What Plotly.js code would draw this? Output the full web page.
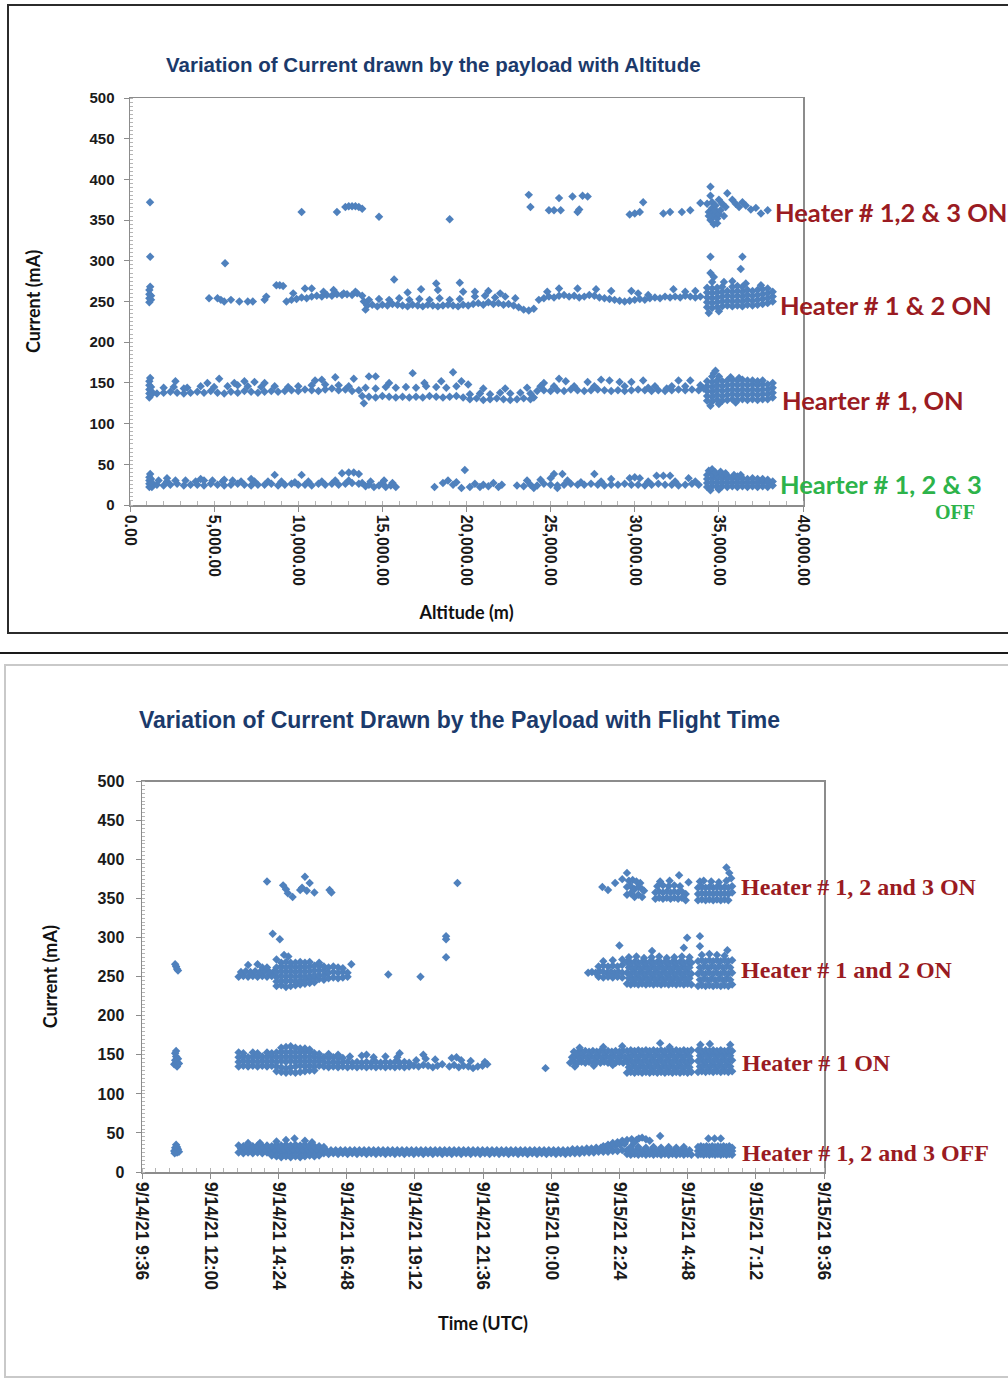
<!DOCTYPE html>
<html>
<head>
<meta charset="utf-8">
<script src="https://cdn.plot.ly/plotly-3.0.1.min.js"></script>
<style>html,body{margin:0;padding:0;background:#fff}#chart{width:1008px;height:1380px}</style>
</head>
<body>
<div id="chart"></div>
<script>
// ---------- TOP CHART DATA: [altitude (m), current (mA)] ----------
const altOffPts = [
 [1150,22],[1150,26],[1150,30],[1150,34],[1200,38],[1250,24],[1250,28],[1250,32],[1300,22],[1300,27],
 [1600,25],[2000,24],[2400,25],[2800,26],[3200,24],[3600,25],[4000,25],[4400,24],[4800,26],[5200,25],[5600,24],[6000,25],[6400,26],[6800,25],[7200,24],[7600,25],[8000,25],[8400,26],[8800,24],[9200,25],[9600,26],[10000,25],[10400,25],[10800,24],[11200,26],[11600,25],[12000,26],[12400,25],[12800,26],[13200,27],[13600,26],
 [1700,30],[2200,29],[2700,30],[3300,30],[3900,29],[4400,30],[4900,30],[5500,29],[6100,30],[6600,29],[7400,29],[8200,29],[9000,29],[9800,28],[10600,29],[11400,29],[12200,30],[13000,30],
 [2200,33],[8600,37],[10200,37],[12600,39],[13000,40],[13300,40],[13600,38],[7200,32],[4200,32],[5600,31],
 [13800,27],[14000,23],[14200,25],[14500,22],[14800,24],[15000,27],[15200,22],[15500,24],[15800,22],[14300,29],[15100,30],[15600,27],
 [18100,22],[18600,27],[18900,30],[19200,25],[19400,28],[19900,43],[19700,21],[20200,22],[20500,26],[20800,22],[21000,25],[21300,23],[21600,27],[21900,22],[22100,25],
 [23000,24],[23400,23],[23800,25],[24200,24],[24600,26],[25000,25],[25400,24],[25800,25],[26200,26],[26600,25],[27000,25],[27400,26],[27800,25],[28200,24],[28600,25],[29000,25],[29400,26],[29800,25],[30200,25],[30600,24],[31000,25],[31400,26],[31800,25],[32200,25],[32600,24],[33000,25],[33400,26],[33800,25],
 [23600,30],[24400,31],[25000,33],[25200,38],[25700,38],[26000,30],[27600,38],[28600,32],[29700,33],[30000,34],[30300,33],[31300,36],[31700,36],[32100,36],[33200,33],[24000,21],[25400,21],[26800,28],[28000,29],[30800,29],[32400,29],[33600,29],
 [34300,22],[34300,27],[34300,32],[34300,37],[34600,23],[34600,28],[34600,33],[34600,38],[34900,22],[34900,27],[34900,32],[34900,36],
 [35200,23],[35200,28],[35200,33],[35200,37],[35500,22],[35500,27],[35500,32],[35500,36],[35800,23],[35800,28],[35800,33],
 [36100,22],[36100,27],[36100,32],[36100,35],[36400,23],[36400,28],[36400,33],[36700,22],[36700,27],[36700,32],
 [37000,23],[37000,28],[37000,33],[37300,22],[37300,27],[37300,32],[37600,23],[37600,28],[37600,32],[37900,22],[37900,27],[37900,31],[38200,24],[38200,29],
 [34400,42],[34600,44],[34800,40],[35100,41],[35400,39],[35900,37],[36300,37],[34500,18],[35000,19]
];
const alt1OnPts = [
 [1150,132],[1150,137],[1150,142],[1150,147],[1150,152],[1200,156],[1250,135],[1250,140],[1250,145],[1300,138],
 [1600,137],[2000,138],[2400,139],[2800,138],[3200,137],[3600,138],[4000,139],[4400,138],[4800,140],[5200,138],[5600,137],[6000,139],[6400,138],[6800,140],[7200,139],[7600,138],[8000,139],[8400,140],[8800,139],[9200,140],[9600,141],[10000,140],[10400,142],[10800,141],[11200,140],[11600,142],[12000,143],[12400,141],[12800,142],[13200,140],[13600,141],
 [2000,144],[2600,145],[3400,144],[4200,146],[5000,145],[5800,146],[6400,147],[7000,146],[7800,145],[8600,146],[9400,145],[10000,146],[10800,147],[11600,148],[12400,147],[13000,146],
 [2700,152],[3200,143],[4600,150],[5300,155],[6200,150],[6800,152],[7400,151],[8000,150],[11000,153],[11400,154],[12200,157],[13300,155],[14200,158],[14600,158],[16800,162],[19200,163],[15400,150],[17500,150],[18500,152],
 [13800,134],[14200,133],[14600,132],[15000,134],[15400,133],[15800,132],[16200,133],[16600,132],[17000,133],[17400,132],[17800,134],[18200,133],[18600,132],[19000,133],[19400,134],[19800,132],
 [14000,144],[14600,143],[15200,145],[15800,144],[16400,145],[17000,144],[17600,146],[18200,145],[18800,144],[19400,146],[13900,125],
 [20200,130],[20600,131],[21000,129],[21400,130],[21800,131],[22200,130],[22600,129],[23000,130],[23400,131],[23800,130],[24000,132],
 [20200,136],[20800,137],[21400,136],[22000,138],[22600,137],[23200,138],[23800,137],
 [19700,152],[20100,148],[21000,143],[22300,143],[23600,144],
 [24200,140],[24600,141],[25000,140],[25400,141],[25800,140],[26200,142],[26600,141],[27000,140],[27400,141],[27800,142],[28200,141],[28600,140],[29000,141],[29400,140],[29800,141],[30200,142],[30600,141],[31000,140],[31400,141],[31800,140],[32200,141],[32600,142],[33000,141],[33400,142],[33800,141],
 [24600,150],[25500,155],[25900,152],[27200,151],[28000,154],[28500,153],[29100,151],[29800,151],[30500,153],[32600,153],[33300,153],[26400,146],[30800,144],[31900,143],[33000,146],[24400,146],[25200,146],[27600,146],[29400,146],[31200,146],[32200,146],
 [34300,128],[34300,134],[34300,140],[34300,146],[34300,152],[34600,127],[34600,133],[34600,139],[34600,145],[34600,151],[34600,158],
 [34900,129],[34900,135],[34900,141],[34900,147],[34900,153],[35200,128],[35200,134],[35200,140],[35200,146],[35200,152],
 [35500,129],[35500,135],[35500,141],[35500,147],[35500,153],[35800,130],[35800,136],[35800,142],[35800,148],[35800,154],
 [36100,129],[36100,135],[36100,141],[36100,147],[36100,153],[36400,130],[36400,136],[36400,142],[36400,148],[36400,154],
 [36700,129],[36700,135],[36700,141],[36700,147],[36700,153],[37000,130],[37000,136],[37000,142],[37000,148],[37000,153],
 [37300,129],[37300,135],[37300,141],[37300,147],[37300,152],[37600,130],[37600,136],[37600,142],[37600,148],[37600,153],
 [37900,130],[37900,136],[37900,142],[37900,148],[38200,132],[38200,138],[38200,144],[38200,150],
 [34700,162],[34800,165],[35000,158],[35700,157],[36200,156],[34500,122],[35000,124],[36000,126],[34100,143],[33900,147]
];
const alt12OnPts = [
 [1150,249],[1150,254],[1150,259],[1150,264],[1200,268],[1250,252],[1250,257],[1200,305],
 [4700,254],[5200,254],[5400,252],[5600,250],[6000,252],[6500,250],[7000,250],[7300,250],[8000,252],[8100,256],[5650,297],
 [8700,270],[8900,270],[9100,269],
 [9300,250],[9600,252],[9900,253],[10200,255],[10500,254],[10800,256],[11100,257],[11400,256],[11700,258],[12000,257],[12300,259],[12600,258],[12900,259],[13200,258],[13500,260],[13800,257],
 [10400,266],[10800,266],[12100,264],[11500,262],[9700,260],[13400,262],[12700,260],
 [14100,245],[14400,246],[14700,244],[15000,246],[15300,245],[15600,247],[15900,246],[16200,245],[16500,244],[16800,246],[17100,245],[17400,244],[17700,246],[18000,245],[18300,244],[18600,245],[18900,246],[19200,245],[19500,244],[19800,246],[20100,245],
 [14200,252],[14800,253],[15400,252],[16000,254],[16600,252],[17200,253],[17800,252],[18400,254],[19000,252],[19600,253],
 [15700,277],[17300,265],[16500,261],[18200,272],[18300,264],[19600,273],[19800,262],[14000,240],[13900,250],
 [20400,247],[20700,248],[21000,246],[21300,249],[21600,247],[21900,248],[22200,246],[22500,247],[22800,245],[23100,243],[23400,240],[23700,239],[24000,241],
 [20500,256],[21100,257],[21700,255],[22300,256],[22900,254],[20500,262],[21300,263],[22000,260],
 [24300,252],[24600,254],[24900,256],[25200,255],[25500,257],[25800,258],[26100,256],[26400,257],[26700,255],[27000,256],[27300,258],[27600,257],[27900,255],[28200,254],[28500,253],[28800,252],[29100,251],[29400,250],[29700,251],[30000,252],[30300,253],[30600,252],[30900,254],[31200,255],[31500,254],[31800,256],[32100,255],[32400,256],[32700,255],[33000,257],[33300,256],[33600,255],[33900,256],
 [25500,266],[26600,266],[27700,265],[28600,263],[29800,263],[30200,260],[30800,258],[32300,265],[33000,262],[33600,263],[24800,262],
 [34300,243],[34300,249],[34300,255],[34300,261],[34300,267],[34600,242],[34600,248],[34600,254],[34600,260],[34600,266],[34600,274],
 [34900,243],[34900,249],[34900,255],[34900,261],[34900,267],[35200,244],[35200,250],[35200,256],[35200,262],[35200,268],
 [35500,245],[35500,251],[35500,257],[35500,263],[35800,244],[35800,250],[35800,256],[35800,262],[35800,268],
 [36100,245],[36100,251],[36100,257],[36100,263],[36100,269],[36400,244],[36400,250],[36400,256],[36400,262],[36400,268],
 [36700,246],[36700,252],[36700,258],[36700,264],[37000,245],[37000,251],[37000,257],[37000,263],
 [37300,246],[37300,252],[37300,258],[37300,264],[37600,247],[37600,253],[37600,259],[37600,265],
 [37900,248],[37900,254],[37900,260],[37900,266],[38200,250],[38200,256],[38200,262],
 [34500,305],[36400,305],[36300,290],[34500,285],[34700,280],[35300,274],[35800,275],[36600,272],[37500,270],[34400,236],[35000,238]
];
const alt123OnPts = [
 [1190,372],[10200,360],[12300,360],[12800,366],[13000,367],[13200,367],[13400,367],[13600,366],[13800,364],[14800,354],[19000,351],
 [23700,381],[23800,366],[24900,362],[25200,362],[25500,377],[25600,362],[26300,379],[26600,360],[26700,363],[26900,380],[27200,379],
 [29700,357],[30000,358],[30300,360],[30500,372],[31700,358],[32100,360],[32800,360],[33300,362],[33900,371],
 [34300,370],[34400,360],[34500,391],[34500,380],[34500,350],[34600,372],[34600,365],[34600,358],[34700,345],[34700,355],[34800,368],[34800,362],
 [34900,352],[35000,375],[35000,357],[35100,362],[35200,370],[35300,355],[35400,366],[35500,383],[34400,355],[34900,346],
 [35800,375],[36000,370],[36200,366],[36400,372],[36600,368],[36900,363],[37200,365],[37500,358],[37900,362]
];

// ---------- BOTTOM CHART DATA: [day hh:mm (Sept 2021, UTC), current (mA)] ----------
const timeOffPts = [
 ['14 10:44',27],['14 10:46',31],['14 10:48',35],['14 10:48',28],['14 10:50',25],['14 10:50',32],['14 10:52',29],['14 10:54',26],['14 10:45',24],
 ['14 13:00',25],['14 13:10',24],['14 13:20',25],['14 13:30',24],['14 13:40',25],['14 13:50',24],
 ['14 14:00',25],['14 14:10',24],['14 14:20',25],['14 14:30',24],['14 14:40',25],['14 14:50',24],
 ['14 15:00',25],['14 15:10',24],['14 15:20',25],['14 15:30',24],['14 15:40',25],['14 15:50',24],
 ['14 16:00',24],['14 16:10',23],['14 16:20',24],['14 16:30',23],['14 16:40',24],['14 16:50',23],
 ['14 17:00',24],['14 17:10',23],['14 17:20',24],['14 17:30',23],['14 17:40',24],['14 17:50',23],
 ['14 18:00',24],['14 18:10',23],['14 18:20',24],['14 18:30',23],['14 18:40',24],['14 18:50',23],
 ['14 19:00',24],['14 19:10',23],['14 19:20',24],['14 19:30',23],['14 19:40',24],['14 19:50',23],
 ['14 20:00',24],['14 20:10',23],['14 20:20',24],['14 20:30',23],['14 20:40',24],['14 20:50',23],
 ['14 21:00',24],['14 21:10',23],['14 21:20',24],['14 21:30',23],['14 21:40',24],['14 21:50',23],
 ['14 22:00',24],['14 22:10',23],['14 22:20',24],['14 22:30',23],['14 22:40',24],['14 22:50',23],
 ['14 23:00',24],['14 23:10',23],['14 23:20',24],['14 23:30',23],['14 23:40',24],['14 23:50',23],
 ['15 00:00',24],['15 00:10',23],['15 00:20',24],['15 00:30',23],['15 00:40',24],['15 00:50',24],
 ['15 01:00',24],['15 01:10',25],['15 01:20',25],['15 01:30',25],['15 01:40',26],['15 01:50',26],
 ['15 02:00',26],['15 02:10',27],['15 02:20',27],['15 02:30',28],['15 02:40',28],
 ['14 13:05',30],['14 13:15',29],['14 13:25',30],['14 13:35',29],['14 13:45',30],['14 13:55',29],
 ['14 14:05',30],['14 14:15',29],['14 14:25',30],['14 14:35',29],['14 14:45',30],['14 14:55',29],
 ['14 15:05',30],['14 15:15',29],['14 15:25',30],['14 15:35',29],['14 15:45',29],['14 15:55',28],
 ['14 16:05',28],['14 16:15',28],['14 16:25',28],['14 16:35',28],['14 16:45',28],['14 16:55',28],
 ['14 17:05',28],['14 17:15',28],['14 17:25',28],['14 17:35',28],['14 17:45',28],['14 17:55',28],
 ['14 18:05',28],['14 18:15',28],['14 18:25',28],['14 18:35',28],['14 18:45',28],['14 18:55',28],
 ['14 19:05',28],['14 19:15',28],['14 19:25',28],['14 19:35',28],['14 19:45',28],['14 19:55',28],
 ['14 20:05',28],['14 20:15',28],['14 20:25',28],['14 20:35',28],['14 20:45',28],['14 20:55',28],
 ['14 21:05',28],['14 21:15',28],['14 21:25',28],['14 21:35',28],['14 21:45',28],['14 21:55',28],
 ['14 22:05',28],['14 22:15',28],['14 22:25',28],['14 22:35',28],['14 22:45',28],['14 22:55',28],
 ['14 23:05',28],['14 23:15',28],['14 23:25',28],['14 23:35',28],['14 23:45',28],['14 23:55',28],
 ['15 00:05',28],['15 00:15',28],['15 00:25',28],['15 00:35',28],['15 00:45',29],['15 00:55',29],
 ['15 01:05',29],['15 01:15',30],['15 01:25',30],['15 01:35',31],['15 01:45',31],['15 01:55',32],
 ['15 02:05',33],['15 02:15',34],['15 02:25',35],['15 02:35',36],
 ['14 13:00',34],['14 13:10',33],['14 13:20',34],['14 13:30',33],['14 13:40',34],['14 13:50',33],['14 14:00',34],['14 14:10',33],['14 14:20',35],['14 14:30',34],
 ['14 14:40',35],['14 14:50',34],['14 15:00',35],['14 15:10',34],['14 15:20',35],['14 15:30',34],['14 15:40',33],['14 15:50',33],['14 16:00',32],
 ['14 14:10',21],['14 14:20',20],['14 14:30',19],['14 14:40',20],['14 14:50',19],['14 15:00',20],['14 15:10',19],['14 15:20',20],['14 15:30',21],['14 15:40',20],['14 15:50',21],
 ['14 13:20',37],['14 13:45',37],['14 14:20',39],['14 14:40',41],['14 14:58',43],['14 15:20',40],['14 15:35',38],
 ['15 02:40',23],['15 02:48',22],['15 02:56',23],['15 03:04',22],['15 03:12',23],['15 03:20',22],['15 03:28',23],['15 03:36',22],['15 03:44',23],
 ['15 03:52',22],['15 04:00',23],['15 04:08',22],['15 04:16',23],['15 04:24',22],['15 04:32',23],['15 04:40',22],['15 04:48',23],['15 04:56',22],
 ['15 02:44',28],['15 02:52',27],['15 03:00',28],['15 03:08',27],['15 03:16',28],['15 03:24',27],['15 03:32',28],['15 03:40',27],['15 03:48',28],
 ['15 03:56',27],['15 04:04',28],['15 04:12',27],['15 04:20',28],['15 04:28',27],['15 04:36',28],['15 04:44',27],['15 04:52',28],
 ['15 02:48',32],['15 03:04',32],['15 03:20',31],['15 03:36',32],['15 03:52',31],['15 04:08',32],['15 04:24',31],['15 04:40',32],
 ['15 01:50',33],['15 02:00',35],['15 02:10',37],['15 02:20',38],['15 02:30',40],['15 02:40',41],['15 02:50',42],['15 03:00',41],
 ['15 03:05',43],['15 03:12',44],['15 03:20',42],['15 03:28',40],['15 03:50',46],['15 02:35',37],['15 02:55',37],
 ['15 05:10',22],['15 05:16',23],['15 05:22',22],['15 05:28',23],['15 05:34',22],['15 05:40',23],['15 05:46',22],['15 05:52',23],['15 05:58',22],['15 06:04',23],['15 06:10',22],['15 06:16',23],['15 06:22',22],
 ['15 05:10',27],['15 05:16',28],['15 05:22',27],['15 05:28',28],['15 05:34',27],['15 05:40',28],['15 05:46',27],['15 05:52',28],['15 05:58',27],['15 06:04',28],['15 06:10',27],['15 06:16',28],['15 06:22',27],
 ['15 05:10',32],['15 05:16',33],['15 05:22',32],['15 05:28',33],['15 05:34',32],['15 05:40',33],['15 05:46',32],['15 05:52',33],['15 05:58',32],['15 06:04',33],['15 06:10',32],['15 06:16',33],['15 06:22',31],
 ['15 05:32',43],['15 05:45',43],['15 05:58',43]
];
const time1OnPts = [
 ['14 10:44',138],['14 10:46',143],['14 10:48',148],['14 10:48',155],['14 10:50',140],['14 10:50',135],['14 10:52',145],['14 10:54',139],['14 10:46',152],
 ['14 13:00',135],['14 13:10',136],['14 13:20',135],['14 13:30',136],['14 13:40',135],['14 13:50',136],['14 14:00',135],['14 14:10',136],['14 14:20',135],['14 14:30',134],['14 14:40',133],['14 14:50',134],
 ['14 15:00',135],['14 15:10',136],['14 15:20',135],['14 15:30',136],['14 15:40',135],['14 15:50',136],['14 16:00',135],['14 16:10',134],['14 16:20',135],['14 16:30',134],['14 16:40',135],
 ['14 13:00',141],['14 13:10',142],['14 13:20',141],['14 13:30',142],['14 13:40',141],['14 13:50',142],['14 14:00',141],['14 14:10',142],['14 14:20',141],['14 14:30',142],['14 14:40',141],['14 14:50',142],
 ['14 15:00',141],['14 15:10',142],['14 15:20',141],['14 15:30',142],['14 15:40',141],['14 15:50',142],['14 16:00',141],['14 16:10',140],['14 16:20',141],['14 16:30',140],['14 16:40',141],
 ['14 13:00',147],['14 13:10',148],['14 13:20',147],['14 13:30',148],['14 13:40',147],['14 13:50',148],['14 14:00',147],['14 14:10',148],['14 14:20',147],['14 14:30',148],['14 14:40',147],['14 14:50',148],
 ['14 15:00',147],['14 15:10',148],['14 15:20',147],['14 15:30',148],['14 15:40',147],['14 15:50',146],['14 16:00',147],['14 16:10',146],['14 16:20',147],['14 16:30',146],['14 16:40',146],
 ['14 13:00',153],['14 13:10',152],['14 13:30',153],['14 13:40',152],['14 14:00',153],['14 14:10',152],['14 14:20',153],['14 14:30',154],['14 14:40',153],['14 14:50',154],
 ['14 15:00',153],['14 15:10',154],['14 15:20',153],['14 15:30',154],['14 15:40',152],['14 15:50',151],['14 16:10',151],['14 16:30',150],
 ['14 14:20',129],['14 14:30',128],['14 14:40',127],['14 14:50',128],['14 15:00',127],['14 15:10',128],['14 15:20',129],['14 15:30',130],['14 15:40',130],
 ['14 14:30',159],['14 14:40',160],['14 14:50',161],['14 15:00',159],['14 15:10',158],['14 15:20',158],['14 15:30',157],
 ['14 16:50',134],['14 17:00',135],['14 17:10',134],['14 17:20',135],['14 17:30',134],['14 17:40',135],['14 17:50',134],['14 18:00',135],['14 18:10',134],['14 18:20',135],['14 18:30',134],['14 18:40',135],['14 18:50',134],['14 19:00',135],
 ['14 16:50',141],['14 17:00',140],['14 17:10',141],['14 17:20',140],['14 17:30',141],['14 17:40',140],['14 17:50',141],['14 18:00',140],['14 18:10',141],['14 18:20',140],['14 18:30',141],['14 18:40',140],['14 18:50',141],['14 19:00',140],
 ['14 16:55',148],['14 17:20',149],['14 17:45',147],['14 18:10',148],['14 18:35',147],['14 17:30',150],['14 18:40',152],
 ['14 19:10',136],['14 19:20',135],['14 19:30',137],['14 19:40',136],['14 19:50',134],['14 20:00',136],['14 20:10',138],['14 20:25',135],['14 20:35',137],['14 20:45',134],['14 20:55',136],['14 21:05',135],['14 21:15',133],['14 21:25',135],['14 21:35',136],['14 21:45',138],
 ['14 19:15',143],['14 19:35',145],['14 19:55',144],['14 20:30',146],['14 20:50',143],['14 21:10',142],['14 21:40',141],['14 19:30',150],['14 20:40',147],
 ['14 23:48',133],
 ['15 00:40',140],['15 00:48',141],['15 00:56',140],['15 01:04',141],['15 01:12',140],['15 01:20',141],['15 01:28',140],['15 01:36',141],['15 01:44',140],['15 01:52',141],['15 02:00',140],['15 02:08',141],['15 02:16',140],['15 02:24',141],['15 02:32',140],
 ['15 00:44',147],['15 00:52',148],['15 01:00',147],['15 01:08',148],['15 01:16',147],['15 01:24',148],['15 01:32',147],['15 01:40',148],['15 01:48',147],['15 01:56',148],['15 02:04',147],['15 02:12',148],['15 02:20',147],['15 02:28',148],['15 02:36',147],
 ['15 00:48',154],['15 00:56',153],['15 01:04',154],['15 01:12',155],['15 01:20',154],['15 01:28',155],['15 01:36',154],['15 01:44',155],['15 01:52',154],['15 02:00',155],['15 02:08',154],['15 02:16',155],['15 02:24',154],['15 02:32',155],
 ['15 00:50',135],['15 01:30',136],['15 02:10',137],['15 01:00',159],['15 01:50',160],['15 02:30',161],
 ['15 02:40',127],['15 02:48',128],['15 02:56',127],['15 03:04',128],['15 03:12',127],['15 03:20',128],['15 03:28',127],['15 03:36',128],['15 03:44',127],['15 03:52',128],['15 04:00',127],['15 04:08',128],['15 04:16',127],['15 04:24',128],['15 04:32',127],['15 04:40',128],['15 04:48',127],['15 04:56',128],
 ['15 02:44',134],['15 02:52',135],['15 03:00',134],['15 03:08',135],['15 03:16',134],['15 03:24',135],['15 03:32',134],['15 03:40',135],['15 03:48',134],['15 03:56',135],['15 04:04',134],['15 04:12',135],['15 04:20',134],['15 04:28',135],['15 04:36',134],['15 04:44',135],['15 04:52',134],
 ['15 02:40',141],['15 02:48',142],['15 02:56',141],['15 03:04',142],['15 03:12',141],['15 03:20',142],['15 03:28',141],['15 03:36',142],['15 03:44',141],['15 03:52',142],['15 04:00',141],['15 04:08',142],['15 04:16',141],['15 04:24',142],['15 04:32',141],['15 04:40',142],['15 04:48',141],['15 04:56',142],
 ['15 02:44',148],['15 02:52',149],['15 03:00',148],['15 03:08',149],['15 03:16',148],['15 03:24',149],['15 03:32',148],['15 03:40',149],['15 03:48',148],['15 03:56',149],['15 04:04',148],['15 04:12',149],['15 04:20',148],['15 04:28',149],['15 04:36',148],['15 04:44',149],['15 04:52',148],
 ['15 02:40',155],['15 02:48',156],['15 02:56',155],['15 03:04',156],['15 03:12',155],['15 03:20',156],['15 03:28',155],['15 03:36',156],['15 03:44',155],['15 03:52',156],['15 04:00',155],['15 04:08',156],['15 04:16',155],['15 04:24',156],['15 04:32',155],['15 04:40',156],['15 04:48',155],['15 04:56',156],
 ['15 05:10',128],['15 05:18',129],['15 05:26',128],['15 05:34',129],['15 05:42',128],['15 05:50',129],['15 05:58',128],['15 06:06',129],['15 06:14',128],['15 06:22',129],
 ['15 05:14',135],['15 05:22',136],['15 05:30',135],['15 05:38',136],['15 05:46',135],['15 05:54',136],['15 06:02',135],['15 06:10',136],['15 06:18',135],
 ['15 05:10',142],['15 05:18',143],['15 05:26',142],['15 05:34',143],['15 05:42',142],['15 05:50',143],['15 05:58',142],['15 06:06',143],['15 06:14',142],['15 06:22',143],
 ['15 05:14',149],['15 05:22',150],['15 05:30',149],['15 05:38',150],['15 05:46',149],['15 05:54',150],['15 06:02',149],['15 06:10',150],['15 06:18',149],
 ['15 05:10',156],['15 05:18',155],['15 05:26',156],['15 05:34',155],['15 05:42',156],['15 05:50',155],['15 05:58',156],['15 06:06',155],['15 06:14',156],['15 06:22',155],
 ['15 03:50',165],['15 05:15',163],['15 05:35',164],['15 06:18',163],['15 04:10',160]
];
const time12OnPts = [
 ['14 10:46',266],['14 10:48',263],['14 10:50',260],['14 10:52',258],
 ['14 13:00',250],['14 13:10',251],['14 13:20',250],['14 13:30',251],['14 13:40',250],['14 13:50',251],['14 14:00',250],['14 14:10',251],['14 14:20',250],
 ['14 13:05',256],['14 13:15',257],['14 13:25',256],['14 13:35',257],['14 13:45',256],['14 13:55',257],['14 14:05',256],['14 14:15',257],
 ['14 13:20',265],['14 13:40',266],['14 13:50',262],['14 14:00',262],
 ['14 14:20',238],['14 14:30',239],['14 14:40',237],['14 14:50',238],['14 15:00',239],['14 15:10',240],['14 15:20',241],['14 15:30',242],['14 15:40',243],
 ['14 14:20',244],['14 14:30',245],['14 14:40',244],['14 14:50',245],['14 15:00',244],['14 15:10',245],['14 15:20',246],['14 15:30',247],['14 15:40',248],['14 15:50',247],['14 16:00',246],
 ['14 14:20',250],['14 14:30',251],['14 14:40',250],['14 14:50',251],['14 15:00',250],['14 15:10',251],['14 15:20',250],['14 15:30',251],['14 15:40',252],['14 15:50',252],['14 16:00',252],
 ['14 14:20',256],['14 14:30',257],['14 14:40',256],['14 14:50',257],['14 15:00',256],['14 15:10',257],['14 15:20',256],['14 15:30',257],['14 15:40',258],['14 15:50',258],['14 16:00',258],
 ['14 14:20',262],['14 14:30',263],['14 14:40',262],['14 14:50',263],['14 15:00',262],['14 15:10',263],['14 15:20',262],['14 15:30',263],['14 15:40',264],['14 15:50',264],['14 16:00',263],
 ['14 14:30',268],['14 14:40',269],['14 14:50',268],['14 15:00',268],['14 15:10',269],['14 15:20',268],['14 15:30',269],['14 15:50',268],
 ['14 16:10',248],['14 16:20',249],['14 16:30',248],['14 16:40',249],['14 16:50',250],
 ['14 16:10',255],['14 16:20',256],['14 16:30',255],['14 16:40',256],['14 16:50',255],
 ['14 16:10',262],['14 16:20',263],['14 16:30',262],['14 16:40',261],
 ['14 14:12',305],['14 14:27',298],['14 14:20',272],['14 14:36',278],['14 14:45',276],['14 16:58',266],['14 18:16',253],['14 19:24',250],['14 20:18',302],['14 20:18',298],['14 20:18',275],
 ['15 01:18',255],['15 01:26',256],['15 01:34',255],['15 01:42',257],['15 01:50',256],['15 01:58',255],['15 02:06',256],['15 02:14',255],['15 02:22',256],['15 02:30',255],
 ['15 01:40',250],['15 01:50',249],['15 02:00',250],['15 02:10',249],['15 02:20',250],['15 02:30',249],
 ['15 01:40',263],['15 01:50',264],['15 02:00',263],['15 02:10',264],['15 02:20',263],['15 02:30',265],
 ['15 01:50',270],['15 02:10',271],['15 02:30',272],
 ['15 02:40',241],['15 02:48',240],['15 02:56',241],['15 03:04',240],['15 03:12',241],['15 03:20',240],['15 03:28',241],['15 03:36',240],['15 03:44',241],['15 03:52',240],['15 04:00',241],['15 04:08',240],['15 04:16',241],['15 04:24',240],['15 04:32',241],['15 04:40',240],['15 04:48',241],['15 04:56',240],
 ['15 02:44',248],['15 02:52',247],['15 03:00',248],['15 03:08',247],['15 03:16',248],['15 03:24',247],['15 03:32',248],['15 03:40',247],['15 03:48',248],['15 03:56',247],['15 04:04',248],['15 04:12',247],['15 04:20',248],['15 04:28',247],['15 04:36',248],['15 04:44',247],['15 04:52',248],
 ['15 02:40',255],['15 02:48',254],['15 02:56',255],['15 03:04',254],['15 03:12',255],['15 03:20',254],['15 03:28',255],['15 03:36',254],['15 03:44',255],['15 03:52',254],['15 04:00',255],['15 04:08',254],['15 04:16',255],['15 04:24',254],['15 04:32',255],['15 04:40',254],['15 04:48',255],['15 04:56',254],
 ['15 02:44',262],['15 02:52',261],['15 03:00',262],['15 03:08',261],['15 03:16',262],['15 03:24',261],['15 03:32',262],['15 03:40',261],['15 03:48',262],['15 03:56',261],['15 04:04',262],['15 04:12',261],['15 04:20',262],['15 04:28',261],['15 04:36',262],['15 04:44',261],['15 04:52',262],
 ['15 02:40',269],['15 02:48',268],['15 02:56',269],['15 03:04',268],['15 03:12',269],['15 03:20',268],['15 03:28',269],['15 03:36',268],['15 03:44',269],['15 03:52',268],['15 04:00',269],['15 04:08',268],['15 04:16',269],['15 04:24',268],['15 04:32',269],['15 04:40',268],['15 04:48',269],['15 04:56',268],
 ['15 02:44',275],['15 03:00',276],['15 03:16',274],['15 03:32',275],['15 03:48',276],['15 04:04',274],['15 04:20',275],['15 04:36',276],['15 04:52',275],
 ['15 05:10',238],['15 05:18',239],['15 05:26',238],['15 05:34',239],['15 05:42',238],['15 05:50',239],['15 05:58',238],['15 06:06',239],['15 06:14',238],['15 06:22',240],
 ['15 05:14',246],['15 05:22',247],['15 05:30',246],['15 05:38',247],['15 05:46',246],['15 05:54',247],['15 06:02',246],['15 06:10',247],['15 06:18',246],
 ['15 05:10',254],['15 05:18',255],['15 05:26',254],['15 05:34',255],['15 05:42',254],['15 05:50',255],['15 05:58',254],['15 06:06',255],['15 06:14',254],['15 06:22',255],
 ['15 05:14',262],['15 05:22',263],['15 05:30',262],['15 05:38',263],['15 05:46',262],['15 05:54',263],['15 06:02',262],['15 06:10',263],['15 06:18',262],
 ['15 05:10',270],['15 05:18',271],['15 05:26',270],['15 05:34',271],['15 05:42',270],['15 05:50',271],['15 05:58',270],['15 06:06',271],['15 06:14',270],['15 06:22',271],
 ['15 05:18',278],['15 05:34',279],['15 05:50',278],['15 06:06',277],
 ['15 02:24',290],['15 03:33',283],['15 04:40',287],['15 04:47',300],['15 05:14',302],['15 05:14',289],['15 06:12',284]
];
const time123OnPts = [
 ['14 14:00',372],['14 14:34',367],['14 14:40',362],['14 14:44',357],['14 14:54',352],['14 15:20',378],['14 15:14',364],['14 15:24',360],['14 15:30',370],['14 15:40',358],['14 15:10',361],['14 16:12',361],['14 16:16',358],['14 20:42',370],
 ['15 01:48',365],['15 02:00',361],['15 02:15',370],['15 02:30',375],['15 02:40',383],
 ['15 02:40',355],['15 02:48',357],['15 02:56',352],['15 03:04',355],['15 03:12',352],
 ['15 02:40',365],['15 02:48',366],['15 02:56',362],['15 03:04',365],['15 03:12',362],
 ['15 02:44',373],['15 02:52',374],['15 03:00',372],['15 03:08',370],['15 03:16',360],
 ['15 03:40',350],['15 03:48',351],['15 03:56',350],['15 04:04',351],['15 04:12',350],['15 04:20',351],['15 04:28',350],['15 04:36',351],['15 04:44',348],
 ['15 03:40',358],['15 03:48',359],['15 03:56',358],['15 04:04',359],['15 04:12',358],['15 04:20',359],['15 04:28',358],['15 04:36',359],['15 04:44',356],
 ['15 03:44',366],['15 03:56',367],['15 04:08',366],['15 04:20',367],['15 04:32',366],
 ['15 04:30',380],['15 04:50',371],['15 03:50',372],['15 04:10',373],
 ['15 05:10',348],['15 05:18',349],['15 05:26',348],['15 05:34',349],['15 05:42',348],['15 05:50',349],['15 05:58',348],['15 06:06',349],['15 06:14',348],
 ['15 05:10',356],['15 05:18',357],['15 05:26',356],['15 05:34',357],['15 05:42',356],['15 05:50',357],['15 05:58',356],['15 06:06',357],['15 06:14',356],['15 06:22',358],
 ['15 05:10',364],['15 05:18',365],['15 05:26',364],['15 05:34',365],['15 05:42',364],['15 05:50',365],['15 05:58',364],['15 06:06',365],['15 06:14',364],['15 06:22',366],
 ['15 05:14',372],['15 05:22',373],['15 05:38',372],['15 05:54',371],['15 06:10',373],['15 06:20',376],['15 06:16',383],['15 06:10',390]
];

const altTicks = [0,5000,10000,15000,20000,25000,30000,35000,40000];

// ---------- helpers (formatting only) ----------
const W = 1008, H = 1380;
const px = x => x / W, py = y => 1 - y / H;
const day = s => '2021-09-' + s;
const BLUE = '#4F81BD';
const mk = {symbol: 'diamond', size: 6.5, color: BLUE, line: {width: 0}};
function trT(pts, name){ return {type:'scatter', mode:'markers', name, x: pts.map(p=>p[0]), y: pts.map(p=>p[1]), marker: mk, xaxis:'x', yaxis:'y', hoverinfo:'x+y'}; }
function trB(pts, name){ return {type:'scatter', mode:'markers', name, x: pts.map(p=>day(p[0])), y: pts.map(p=>p[1]), marker: mk, xaxis:'x2', yaxis:'y2', hoverinfo:'x+y'}; }

const data = [
 trT(altOffPts,'Heater # 1, 2 & 3 OFF'), trT(alt1OnPts,'Heater # 1 ON'), trT(alt12OnPts,'Heater # 1 & 2 ON'), trT(alt123OnPts,'Heater # 1,2 & 3 ON'),
 trB(timeOffPts,'Heater # 1, 2 and 3 OFF'), trB(time1OnPts,'Heater # 1 ON'), trB(time12OnPts,'Heater # 1 and 2 ON'), trB(time123OnPts,'Heater # 1, 2 and 3 ON')
];

const AX = '#8c8c8c';
const tickF = s => ({family:'Liberation Sans, Arial, sans-serif', size:s, color:'#1a1a1a', weight:'bold'});
const axTitleF = {family:'Lato, Liberation Sans, sans-serif', size:18, color:'#111', weight:'bold'};
const yCommon = {range:[0,500], tick0:0, dtick:50, ticks:'outside', ticklen:5, tickcolor:AX, showline:true, linecolor:AX, linewidth:1.5, mirror:true,
  showgrid:false, zeroline:false, minor:{dtick:5, ticks:'inside', ticklen:3, tickcolor:'#b5b5b5', showgrid:false}, fixedrange:true};
const RED = '#9a1b22', GREEN = '#2db34a';
const lab = (t, x, y, fam, size, color, anchor) => ({text:t, xref:'paper', yref:'paper', x:px(x), y:py(y), xanchor:anchor||'left', yanchor:'middle', showarrow:false, font:{family:fam, size:size, color:color, weight:'bold'}});

const layout = {
 width: W, height: H, margin:{l:0,r:0,t:0,b:0}, paper_bgcolor:'#fff', plot_bgcolor:'#fff', showlegend:false,
 xaxis: {domain:[px(130), px(803)], anchor:'y', range:[0,40000], tickmode:'array', tickvals:altTicks, tickformat:',.2f', tickangle:90,
   ticks:'outside', ticklen:5, tickcolor:AX, showline:true, linecolor:AX, linewidth:1.5, mirror:true, showgrid:false, zeroline:false,
   minor:{dtick:1000, ticks:'inside', ticklen:4, tickcolor:'#b5b5b5', showgrid:false}, tickfont:tickF(16),
   title:{text:'Altitude (m)', font:axTitleF, standoff:21}},
 yaxis: Object.assign({}, yCommon, {domain:[py(505), py(98)], anchor:'x', tickfont:tickF(15), ticklabelstandoff:6,
   title:{text:'Current (mA)', font:axTitleF, standoff:44}}),
 xaxis2: {domain:[px(142), px(824)], anchor:'y2', type:'date', range:['2021-09-14 09:36','2021-09-15 09:36'],
   tick0:'2021-09-14 09:36', dtick:8640000, tickformat:'%-m/%-d/%y %-H:%M', tickangle:90,
   ticks:'outside', ticklen:5, tickcolor:AX, showline:true, linecolor:AX, linewidth:1.5, mirror:true, showgrid:false, zeroline:false,
   minor:{dtick:1728000, ticks:'inside', ticklen:4, tickcolor:'#b5b5b5', showgrid:false}, tickfont:tickF(17.5),
   title:{text:'Time (UTC)', font:axTitleF, standoff:28}},
 yaxis2: Object.assign({}, yCommon, {domain:[py(1172), py(781.5)], anchor:'x2', tickfont:tickF(16), ticklabelstandoff:8,
   title:{text:'Current (mA)', font:axTitleF, standoff:35}}),
 shapes: [
  {type:'rect', xref:'paper', yref:'paper', x0:px(8), x1:px(1030), y0:py(5), y1:py(633), line:{color:'#2b2b2b', width:2}},
  {type:'line', xref:'paper', yref:'paper', x0:0, x1:1.02, y0:py(653), y1:py(653), line:{color:'#1a1a1a', width:2}},
  {type:'rect', xref:'paper', yref:'paper', x0:px(5), x1:px(1030), y0:py(665), y1:py(1377), line:{color:'#c9c9c9', width:2}}
 ],
 annotations: [
  lab('Variation of Current drawn by the payload with Altitude', 433, 65, 'Liberation Sans, Arial, sans-serif', 20.5, '#1b3a6b', 'center'),
  lab('Variation of Current Drawn by the Payload with Flight Time', 459, 720, 'Liberation Sans, Arial, sans-serif', 23, '#1b3a6b', 'center'),
  lab('Heater # 1,2 & 3 ON', 773, 212, 'Lato, sans-serif', 25.5, RED),
  lab('Heater # 1 & 2 ON', 778, 305, 'Lato, sans-serif', 25.5, RED),
  lab('Hearter # 1, ON', 780, 400, 'Lato, sans-serif', 25.5, RED),
  lab('Hearter # 1, 2 & 3', 778, 484, 'Lato, sans-serif', 25.5, GREEN),
  lab('OFF', 955, 512, 'Liberation Serif, serif', 20, GREEN, 'center'),
  lab('Heater # 1, 2 and 3 ON', 739, 887, 'Liberation Serif, serif', 24, RED),
  lab('Heater # 1 and 2 ON', 739, 970, 'Liberation Serif, serif', 24, RED),
  lab('Heater # 1 ON', 740, 1063, 'Liberation Serif, serif', 24, RED),
  lab('Heater # 1, 2 and 3 OFF', 740, 1153, 'Liberation Serif, serif', 24, RED)
 ]
};

Plotly.newPlot('chart', data, layout, {staticPlot:true, displayModeBar:false});
</script>
</body>
</html>
